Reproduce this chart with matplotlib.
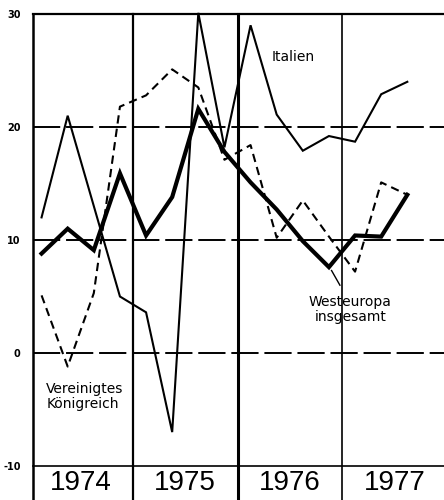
import matplotlib.pyplot as plt
import numpy as np

# quartalswerte 1974 Q1 .. 1977 Q3 (x in jahren ab 1974, quartalsmitte)
quarters = np.arange(15) * 0.25 + 0.125
italien = [12.0, 21.0, 13.0, 5.0, 3.6, -7.0, 30.1, 18.2, 29.0, 21.1, 17.9, 19.2, 18.7, 22.9, 24.0]
westeuropa = [8.8, 11.0, 9.1, 15.9, 10.4, 13.8, 21.6, 17.8, 15.1, 12.7, 9.9, 7.6, 10.4, 10.3, 14.0]
uk = [5.1, -1.2, 5.3, 21.8, 22.8, 25.1, 23.5, 17.1, 18.4, 10.2, 13.5, 10.3, 7.2, 15.1, 14.0]

years = ["1974", "1975", "1976", "1977"]
yticks = [-10, 0, 10, 20, 30]

fig = plt.figure(figsize=(4.44, 5.0), dpi=100)
ax = fig.add_axes([33 / 444, 34 / 500, 411 / 444, 452 / 500])
ax.set_xlim(4.5 / 104.5, 415.5 / 104.5)
ax.set_ylim(-10, 30)

for s in ax.spines.values():
    s.set_visible(False)

# raster
ax.axhline(30, color="black", lw=1.6, clip_on=False)
ax.axhline(-10, color="black", lw=1.2, clip_on=False)
for y in [0, 10, 20]:
    ax.axhline(y, color="black", lw=1.4, linestyle=(0, (14, 3)))
ybot = -13.0
for x, lw in [(4.5 / 104.5, 1.8), (1, 1.6), (2, 2.2), (3, 1.2)]:
    ax.plot([x, x], [ybot, 30], color="black", lw=lw, clip_on=False)

# kurven
ax.plot(quarters, italien, color="black", lw=1.5, clip_on=False, solid_joinstyle="miter")
ax.plot(quarters, uk, color="black", lw=1.5, linestyle=(0, (4, 2.5)), clip_on=False)
ax.plot(quarters, westeuropa, color="black", lw=3.0, clip_on=False, solid_joinstyle="miter")

# beschriftungen
ax.text(2.325, 26.2, "Italien", fontsize=10, ha="left", va="center")
ax.text(0.17, -2.6, "Vereinigtes\nKönigreich", fontsize=10, ha="left", va="top", linespacing=1.1)
ax.text(3.08, 5.1, "Westeuropa\ninsgesamt", fontsize=10, ha="center", va="top", linespacing=1.1)
ax.plot([2.9, 2.98], [7.3, 6.0], color="black", lw=1.0)

ax.set_yticks(yticks)
ax.set_yticklabels([str(v) for v in yticks], fontsize=7, fontweight="bold")
ax.tick_params(axis="y", length=0, pad=9)
ax.set_xticks([])
for i, yr in enumerate(years):
    ax.text(i + 0.5, -11.5, yr, fontsize=20, ha="center", va="center",
            family=["Liberation Sans Narrow", "Liberation Sans", "DejaVu Sans"])

fig.savefig("out.png", dpi=100)
